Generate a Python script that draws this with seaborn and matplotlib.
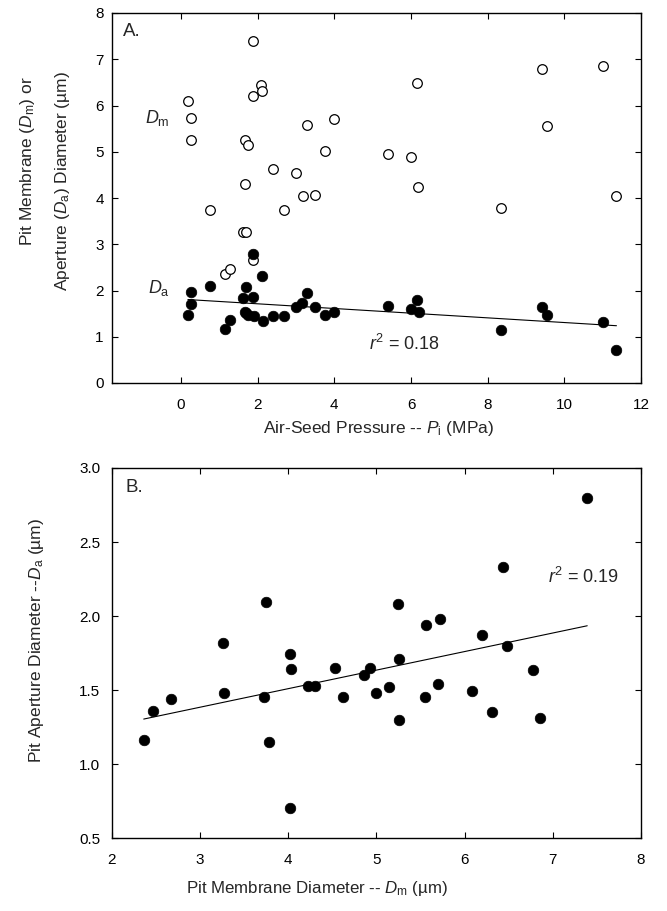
import numpy as np
import pandas as pd
import matplotlib
matplotlib.use("Agg")
import matplotlib.pyplot as plt
import seaborn as sns

# ---- Panel A data: air-seed pressure vs diameters ----
pi_open = [1.87, 2.09, 2.12, 1.88, 0.18, 0.26, 0.26, 1.68, 1.76, 3.99, 3.29, 3.76,
           5.39, 2.39, 3.00, 1.68, 3.17, 3.49, 6.15, 9.42, 11.00, 9.56, 5.99, 6.19,
           11.36, 0.75, 2.68, 1.61, 1.69, 1.89, 1.15, 1.29, 8.35]
dm_open = [7.39, 6.44, 6.32, 6.20, 6.09, 5.73, 5.26, 5.25, 5.15, 5.71, 5.57, 5.01,
           4.95, 4.63, 4.54, 4.30, 4.04, 4.06, 6.49, 6.79, 6.86, 5.56, 4.88, 4.23,
           4.04, 3.75, 3.73, 3.26, 3.27, 2.67, 2.36, 2.46, 3.79]
pi_filled = [1.89, 2.10, 0.26, 0.75, 1.69, 1.61, 1.89, 0.26, 0.18, 1.70, 1.76, 1.90,
             2.13, 2.40, 2.68, 1.29, 1.15, 3.00, 3.16, 3.29, 3.49, 3.76, 3.99, 5.39,
             5.99, 6.16, 6.20, 8.35, 9.43, 9.56, 11.00, 11.36, 1.68]
da_filled = [2.79, 2.32, 1.97, 2.09, 2.08, 1.83, 1.87, 1.71, 1.48, 1.51, 1.48, 1.44,
             1.34, 1.45, 1.45, 1.36, 1.16, 1.64, 1.74, 1.94, 1.64, 1.48, 1.53, 1.66,
             1.61, 1.80, 1.53, 1.15, 1.64, 1.46, 1.31, 0.71, 1.53]

# ---- Panel B data: membrane vs aperture diameter ----
b_dm = [3.75, 5.24, 7.39, 6.44, 5.56, 5.72, 6.20, 2.36, 2.46, 2.67, 3.26, 3.27,
        3.72, 3.78, 4.02, 4.03, 4.02, 4.22, 4.30, 4.53, 4.62, 4.86, 4.93, 5.00,
        5.14, 5.25, 5.26, 6.48, 6.78, 5.70, 5.55, 6.08, 6.31, 6.85]
b_da = [2.095, 2.08, 2.80, 2.33, 1.94, 1.98, 1.875, 1.16, 1.36, 1.44, 1.82, 1.48,
        1.45, 1.15, 1.74, 1.64, 0.70, 1.53, 1.53, 1.65, 1.45, 1.60, 1.65, 1.48,
        1.52, 1.71, 1.30, 1.80, 1.635, 1.54, 1.455, 1.49, 1.35, 1.31]

a_xticks = [0, 2, 4, 6, 8, 10, 12]
a_yticks = [0, 1, 2, 3, 4, 5, 6, 7, 8]
b_xticks = [2, 3, 4, 5, 6, 7, 8]
b_yticks = [0.5, 1.0, 1.5, 2.0, 2.5, 3.0]
b_yticklabels = ["0.5", "1.0", "1.5", "2.0", "2.5", "3.0"]

sns.set_style("ticks")
plt.rcParams["font.family"] = ["Liberation Sans", "DejaVu Sans"]
plt.rcParams["mathtext.fontset"] = "custom"
plt.rcParams["mathtext.rm"] = "Liberation Sans"
plt.rcParams["mathtext.it"] = "Liberation Sans:italic"
plt.rcParams["mathtext.sf"] = "Liberation Sans"

W, H = 667, 911
fig = plt.figure(figsize=(W / 100, H / 100), dpi=100)

def frac_axes(l, t, r, b):
    return fig.add_axes([l / W, 1 - b / H, (r - l) / W, (b - t) / H])

axA = frac_axes(112, 13, 641, 383)
axB = frac_axes(112, 468, 641, 838)

dfA_open = pd.DataFrame({"Pi": pi_open, "Dm": dm_open})
dfA_fill = pd.DataFrame({"Pi": pi_filled, "Da": da_filled})
dfB = pd.DataFrame({"Dm": b_dm, "Da": b_da})

sns.scatterplot(data=dfA_open, x="Pi", y="Dm", ax=axA, s=48, facecolor="white",
                edgecolor="black", linewidth=0.9, zorder=3)
sns.scatterplot(data=dfA_fill, x="Pi", y="Da", ax=axA, s=58, color="black",
                edgecolor="black", linewidth=0.5, zorder=4)
sns.regplot(data=dfA_fill, x="Pi", y="Da", ax=axA, scatter=False, ci=None,
            line_kws={"color": "black", "lw": 0.8, "zorder": 2})

sns.scatterplot(data=dfB, x="Dm", y="Da", ax=axB, s=58, color="black",
                edgecolor="black", linewidth=0.5, zorder=4)
sns.regplot(data=dfB, x="Dm", y="Da", ax=axB, scatter=False, ci=None,
            line_kws={"color": "black", "lw": 0.8, "zorder": 2})

axA.set_xlim(-1.8, 12)
axA.set_ylim(0, 8)
axA.set_xticks(a_xticks)
axA.set_yticks(a_yticks)
axB.set_xlim(2, 8)
axB.set_ylim(0.5, 3.0)
axB.set_xticks(b_xticks)
axB.set_yticks(b_yticks)
axB.set_yticklabels(b_yticklabels)

for ax in (axA, axB):
    ax.set_xlabel("")
    ax.set_ylabel("")
    ax.tick_params(direction="in", length=4, width=0.8, top=True, right=True,
                   labelsize=11, colors="black")
    ax.tick_params(axis="x", pad=10.5)
    for sp in ax.spines.values():
        sp.set_visible(True)
        sp.set_linewidth(1.0)
        sp.set_color("black")
axA.tick_params(axis="y", pad=6)
axB.tick_params(axis="y", pad=8.5)

# panel annotations
axA.text(0.021, 0.951, "A.", transform=axA.transAxes, fontsize=13.5, va="center", ha="left")
axB.text(0.025, 0.946, "B.", transform=axB.transAxes, fontsize=13.5, va="center", ha="left")
axA.text(-0.93, 5.73, r"$\mathit{D}_\mathrm{m}$", fontsize=13, va="center", ha="left")
axA.text(-0.86, 2.05, r"$\mathit{D}_\mathrm{a}$", fontsize=13, va="center", ha="left")
axA.text(4.91, 0.71, r"$\mathit{r}^2$ = 0.18", fontsize=13, va="baseline", ha="left")
axB.text(6.95, 2.225, r"$\mathit{r}^2$ = 0.19", fontsize=13, va="baseline", ha="left")

# axis labels
fig.text(28 / W, 1 - 161 / H, r"Pit Membrane ($\mathit{D}_\mathrm{m}$) or", rotation=90,
         fontsize=12.5, ha="center", va="center")
fig.text(62 / W, 1 - 181 / H, r"Aperture ($\mathit{D}_\mathrm{a}$) Diameter (µm)", rotation=90,
         fontsize=12.5, ha="center", va="center")
fig.text(378 / W, 1 - 428 / H, r"Air-Seed Pressure -- $\mathit{P}_\mathrm{i}$ (MPa)",
         fontsize=12.5, ha="center", va="center")
fig.text(37 / W, 1 - 640 / H, r"Pit Aperture Diameter --$\mathit{D}_\mathrm{a}$ (µm)", rotation=90,
         fontsize=12.5, ha="center", va="center")
fig.text(317 / W, 1 - 889 / H, r"Pit Membrane Diameter -- $\mathit{D}_\mathrm{m}$ (µm)",
         fontsize=12.2, ha="center", va="center")

fig.savefig("out.png", dpi=100, facecolor="white")
